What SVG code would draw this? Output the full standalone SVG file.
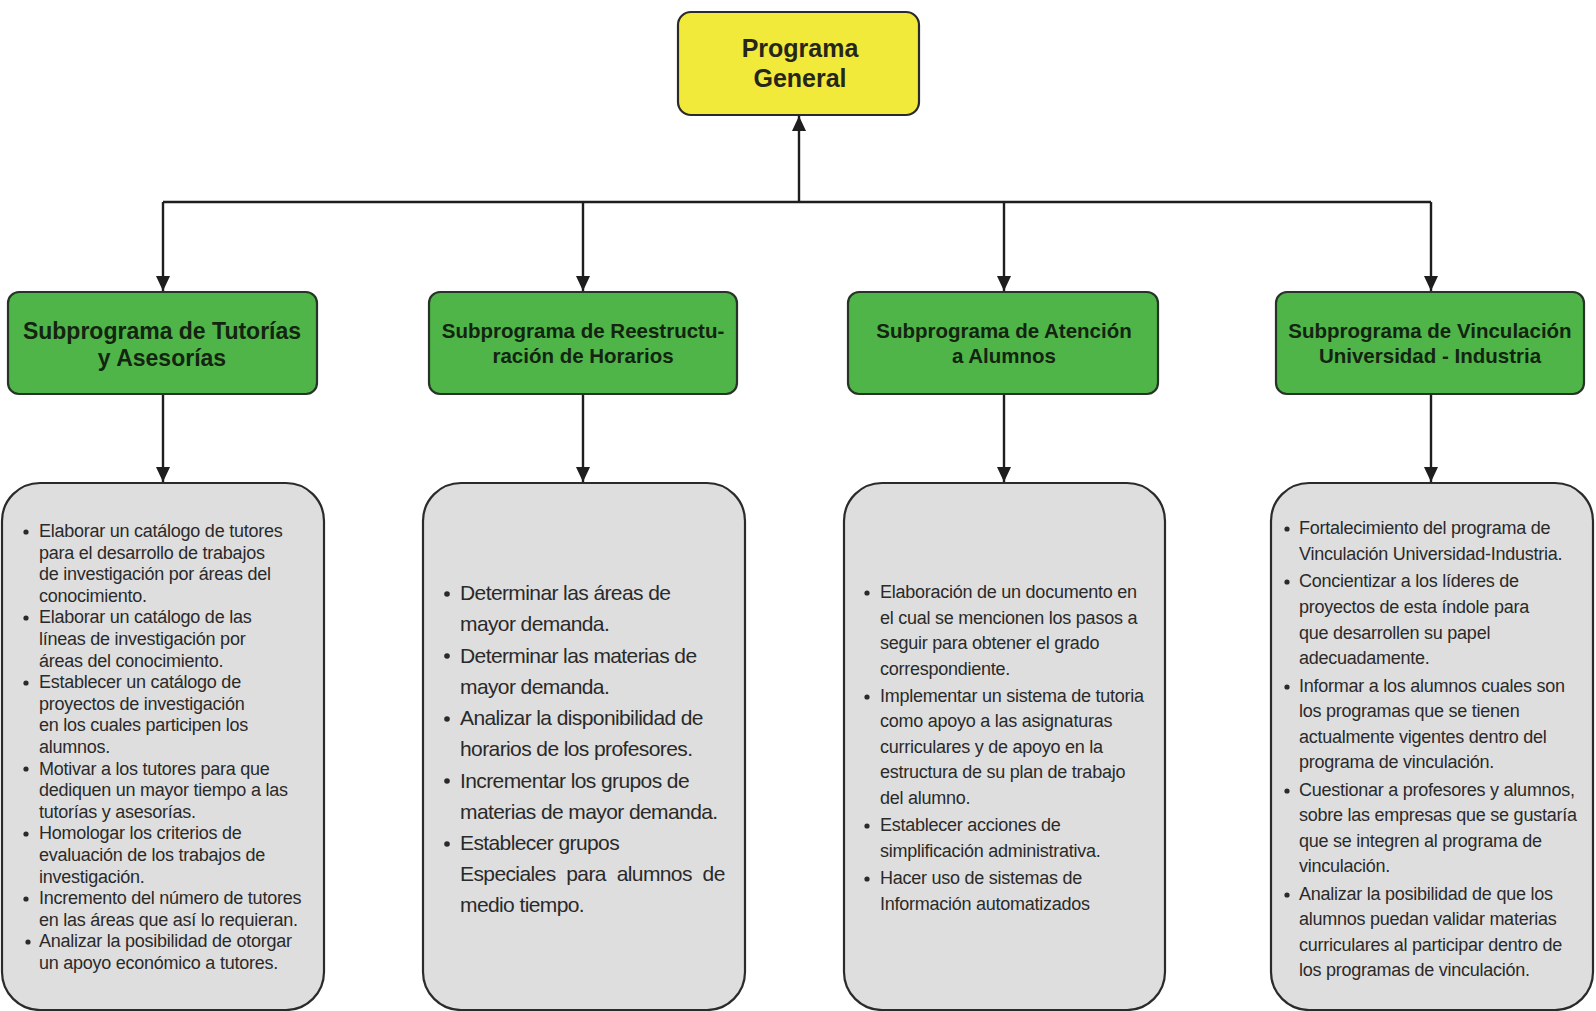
<svg xmlns="http://www.w3.org/2000/svg" width="1596" height="1011" viewBox="0 0 1596 1011">
<defs>
<marker id="arr" markerUnits="userSpaceOnUse" markerWidth="16" markerHeight="14" refX="15" refY="7" orient="auto">
<path d="M0,0 L15,7 L0,14 z" fill="#1e1e1e"/>
</marker>
<style>
.bg{fill:#ffffff}
.title{fill:#f1ea3a;stroke:#2a2a2a;stroke-width:2.2}
.sub{fill:#4fb548;stroke:#263326;stroke-width:2.2}
.det{fill:#dedede;stroke:#2b2b2b;stroke-width:2.2}
.tt{font-family:"Liberation Sans",Arial,sans-serif;font-weight:bold;font-size:25px;fill:#26261a;text-anchor:middle}
.st{font-family:"Liberation Sans",Arial,sans-serif;font-weight:bold;font-size:20.5px;fill:#132410;text-anchor:middle}
.st1{font-size:23px}
.bx{font-family:"Liberation Sans",Arial,sans-serif;font-size:18px;letter-spacing:-0.25px;fill:#2a2a2a}
.bx2{font-family:"Liberation Sans",Arial,sans-serif;font-size:21px;letter-spacing:-0.6px;fill:#2a2a2a}
.con{fill:none;stroke:#1e1e1e;stroke-width:2.4}
.dot{fill:#2a2a2a}
</style>
</defs>
<rect class="bg" x="0" y="0" width="1596" height="1011"/>

<g id="connectors">
<path class="con" d="M799,202 V116" marker-end="url(#arr)"/>
<path class="con" d="M163,202 H1431"/>
<path class="con" d="M163,202 V291" marker-end="url(#arr)"/>
<path class="con" d="M583,202 V291" marker-end="url(#arr)"/>
<path class="con" d="M1004,202 V291" marker-end="url(#arr)"/>
<path class="con" d="M1431,202 V291" marker-end="url(#arr)"/>
<path class="con" d="M163,394 V482" marker-end="url(#arr)"/>
<path class="con" d="M583,394 V482" marker-end="url(#arr)"/>
<path class="con" d="M1004,394 V482" marker-end="url(#arr)"/>
<path class="con" d="M1431,394 V482" marker-end="url(#arr)"/>
</g>

<g id="programa-general">
<rect class="title" x="678" y="12" width="241" height="103" rx="13"/>
<text class="tt" x="800" y="57">Programa</text>
<text class="tt" x="800" y="87">General</text>
</g>

<g id="sub-tutorias">
<rect class="sub" x="8" y="292" width="309" height="102" rx="11"/>
<text class="st st1" x="162" y="339">Subprograma de Tutorías</text>
<text class="st st1" x="162" y="366">y Asesorías</text>
</g>

<g id="sub-horarios">
<rect class="sub" x="429" y="292" width="308" height="102" rx="11"/>
<text class="st" x="583" y="338">Subprograma de Reestructu-</text>
<text class="st" x="583" y="363">ración de Horarios</text>
</g>

<g id="sub-atencion">
<rect class="sub" x="848" y="292" width="310" height="102" rx="11"/>
<text class="st" x="1004" y="338">Subprograma de Atención</text>
<text class="st" x="1004" y="363">a Alumnos</text>
</g>

<g id="sub-vinculacion">
<rect class="sub" x="1276" y="292" width="308" height="102" rx="11"/>
<text class="st" x="1430" y="338">Subprograma de Vinculación</text>
<text class="st" x="1430" y="363">Universidad - Industria</text>
</g>

<g id="det-tutorias">
<rect class="det" x="2" y="483" width="322" height="527" rx="38"/>
<g class="dot">
<circle cx="26" cy="532" r="2.6"/>
<circle cx="26" cy="618" r="2.6"/>
<circle cx="26" cy="683" r="2.6"/>
<circle cx="26" cy="769" r="2.6"/>
<circle cx="26" cy="834" r="2.6"/>
<circle cx="26" cy="899" r="2.6"/>
<circle cx="28" cy="942" r="2.6"/>
</g>
<text class="bx">
<tspan x="39" y="537">Elaborar un catálogo de tutores</tspan>
<tspan x="39" y="558.6">para el desarrollo de trabajos</tspan>
<tspan x="39" y="580.2">de investigación por áreas del</tspan>
<tspan x="39" y="601.8">conocimiento.</tspan>
<tspan x="39" y="623.4">Elaborar un catálogo de las</tspan>
<tspan x="39" y="645">líneas de investigación por</tspan>
<tspan x="39" y="666.6">áreas del conocimiento.</tspan>
<tspan x="39" y="688.2">Establecer un catálogo de</tspan>
<tspan x="39" y="709.8">proyectos de investigación</tspan>
<tspan x="39" y="731.4">en los cuales participen los</tspan>
<tspan x="39" y="753">alumnos.</tspan>
<tspan x="39" y="774.6">Motivar a los tutores para que</tspan>
<tspan x="39" y="796.2">dediquen un mayor tiempo a las</tspan>
<tspan x="39" y="817.8">tutorías y asesorías.</tspan>
<tspan x="39" y="839.4">Homologar los criterios de</tspan>
<tspan x="39" y="861">evaluación de los trabajos de</tspan>
<tspan x="39" y="882.6">investigación.</tspan>
<tspan x="39" y="904.2">Incremento del número de tutores</tspan>
<tspan x="39" y="925.8">en las áreas que así lo requieran.</tspan>
<tspan x="39" y="947.4">Analizar la posibilidad de otorgar</tspan>
<tspan x="39" y="969">un apoyo económico a tutores.</tspan>
</text>
</g>

<g id="det-horarios">
<rect class="det" x="423" y="483" width="322" height="527" rx="38"/>
<g class="dot">
<circle cx="447" cy="594" r="2.8"/>
<circle cx="447" cy="656" r="2.8"/>
<circle cx="447" cy="719" r="2.8"/>
<circle cx="447" cy="781" r="2.8"/>
<circle cx="447" cy="844" r="2.8"/>
</g>
<text class="bx2">
<tspan x="460" y="600">Determinar las áreas de</tspan>
<tspan x="460" y="631">mayor demanda.</tspan>
<tspan x="460" y="662.5">Determinar las materias de</tspan>
<tspan x="460" y="693.5">mayor demanda.</tspan>
<tspan x="460" y="725">Analizar la disponibilidad de</tspan>
<tspan x="460" y="756">horarios de los profesores.</tspan>
<tspan x="460" y="787.5">Incrementar los grupos de</tspan>
<tspan x="460" y="818.5">materias de mayor demanda.</tspan>
<tspan x="460" y="850">Establecer grupos</tspan>
<tspan x="460" y="881" word-spacing="5.5">Especiales para alumnos de</tspan>
<tspan x="460" y="912">medio tiempo.</tspan>
</text>
</g>

<g id="det-atencion">
<rect class="det" x="844" y="483" width="321" height="527" rx="38"/>
<g class="dot">
<circle cx="867" cy="593" r="2.6"/>
<circle cx="867" cy="697" r="2.6"/>
<circle cx="867" cy="826" r="2.6"/>
<circle cx="867" cy="879" r="2.6"/>
</g>
<text class="bx">
<tspan x="880" y="598">Elaboración de un documento en</tspan>
<tspan x="880" y="624">el cual se mencionen los pasos a</tspan>
<tspan x="880" y="649">seguir para obtener el grado</tspan>
<tspan x="880" y="675">correspondiente.</tspan>
<tspan x="880" y="702">Implementar un sistema de tutoria</tspan>
<tspan x="880" y="727">como apoyo a las asignaturas</tspan>
<tspan x="880" y="753">curriculares y de apoyo en la</tspan>
<tspan x="880" y="778">estructura de su plan de trabajo</tspan>
<tspan x="880" y="804">del alumno.</tspan>
<tspan x="880" y="831">Establecer acciones de</tspan>
<tspan x="880" y="857">simplificación administrativa.</tspan>
<tspan x="880" y="884">Hacer uso de sistemas de</tspan>
<tspan x="880" y="910">Información automatizados</tspan>
</text>
</g>

<g id="det-vinculacion">
<rect class="det" x="1271" y="483" width="322" height="527" rx="38"/>
<g class="dot">
<circle cx="1287" cy="529" r="2.6"/>
<circle cx="1287" cy="582" r="2.6"/>
<circle cx="1287" cy="687" r="2.6"/>
<circle cx="1287" cy="791" r="2.6"/>
<circle cx="1287" cy="895" r="2.6"/>
</g>
<text class="bx">
<tspan x="1299" y="534">Fortalecimiento del programa de</tspan>
<tspan x="1299" y="560">Vinculación Universidad-Industria.</tspan>
<tspan x="1299" y="587">Concientizar a los líderes de</tspan>
<tspan x="1299" y="613">proyectos de esta índole para</tspan>
<tspan x="1299" y="639">que desarrollen su papel</tspan>
<tspan x="1299" y="664">adecuadamente.</tspan>
<tspan x="1299" y="692">Informar a los alumnos cuales son</tspan>
<tspan x="1299" y="717">los programas que se tienen</tspan>
<tspan x="1299" y="743">actualmente vigentes dentro del</tspan>
<tspan x="1299" y="768">programa de vinculación.</tspan>
<tspan x="1299" y="796">Cuestionar a profesores y alumnos,</tspan>
<tspan x="1299" y="821">sobre las empresas que se gustaría</tspan>
<tspan x="1299" y="847">que se integren al programa de</tspan>
<tspan x="1299" y="872">vinculación.</tspan>
<tspan x="1299" y="900">Analizar la posibilidad de que los</tspan>
<tspan x="1299" y="925">alumnos puedan validar materias</tspan>
<tspan x="1299" y="951">curriculares al participar dentro de</tspan>
<tspan x="1299" y="976">los programas de vinculación.</tspan>
</text>
</g>
</svg>
